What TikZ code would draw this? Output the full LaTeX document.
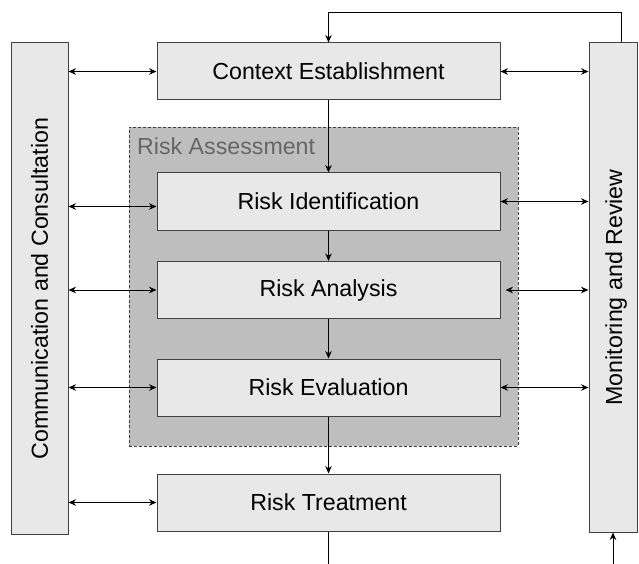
\documentclass[tikz,border=0pt]{standalone}
\usepackage{fontspec}
\setmainfont{Liberation Sans}
\usetikzlibrary{arrows.meta}
\definecolor{boxfill}{HTML}{E8E8E8}
\definecolor{regfill}{HTML}{BEBEBE}
\definecolor{edge}{HTML}{404040}
\definecolor{labgrey}{HTML}{666666}
\tikzset{
  procbox/.style={draw=edge, fill=boxfill, line width=1pt, minimum width=343pt, minimum height=57pt, inner sep=0pt, font=\fontsize{23.2}{27}\selectfont},
  sidebox/.style={draw=edge, fill=boxfill, line width=1pt, inner sep=0pt},
  region/.style={draw=edge, fill=regfill, line width=0.8pt, dash pattern=on 3pt off 2pt, inner sep=0pt, minimum width=389pt, minimum height=319pt},
  arr/.style={line width=0.9pt, draw=black, -{Stealth[length=7.5pt,width=6.5pt]}},
  darr/.style={line width=0.9pt, draw=black, {Stealth[length=7.5pt,width=6.5pt]}-{Stealth[length=7.5pt,width=6.5pt]}},
  plain/.style={line width=0.9pt, draw=black},
  sidetext/.style={rotate=90, font=\fontsize{23.2}{27}\selectfont},
}
\begin{document}
\begin{tikzpicture}[x=1pt,y=-1pt]
\useasboundingbox (0,0) rectangle (639,564);
% region
\node[region] (RA) at (323.5,286.5) {};
\node[anchor=base west, text=labgrey, inner sep=0pt, font=\fontsize{23.2}{27}\selectfont] (RAlab) at (137,155) {Risk Assessment};
% side boxes
\node[sidebox, minimum width=57pt, minimum height=491pt] (L) at (39.5,288.5) {};
\node[sidetext] (Ltext) at (L.center) {Communication and Consultation};
\node[sidebox, minimum width=48pt, minimum height=489pt] (R) at (613,287.5) {};
\node[sidetext] (Rtext) at ([xshift=3pt]R.center) {Monitoring and Review};
% process boxes
\node[procbox] (C) at (328.5,71.5) {Context Establishment};
\node[procbox] (ID) at (328.5,201.5) {Risk Identification};
\node[procbox] (AN) at (328.5,290) {Risk Analysis};
\node[procbox] (EV) at (328.5,387.5) {Risk Evaluation};
\node[procbox] (T) at (328.5,502.5) {Risk Treatment};
% helper coordinates
\coordinate (top) at (0,12);
\coordinate (bot) at (0,564);
% vertical flow
\draw[arr] (C.south) -- (ID.north);
\draw[arr] (ID.south) -- (AN.north);
\draw[arr] (AN.south) -- (EV.north);
\draw[arr] (EV.south) -- (T.north);
\draw[plain] (T.south) -- (T.south |- bot);
% feedback
\draw[arr] ([xshift=8pt]R.north) -- ([xshift=8pt]R.north |- top) -- (C.north |- top) -- (C.north);
\draw[arr] (R.south |- bot) -- (R.south);
% left links
\draw[darr] (L.east |- C.west) -- (C.west);
\draw[darr] ([yshift=-5pt]ID.west -| L.east) -- ([yshift=-5pt]ID.west);
\draw[darr] (L.east |- AN.west) -- (AN.west);
\draw[darr] (L.east |- EV.west) -- (EV.west);
\draw[darr] (L.east |- T.west) -- (T.west);
% right links
\draw[darr] (C.east) -- (C.east -| R.west);
\draw[darr] (ID.east) -- (ID.east -| R.west);
\draw[darr] ([xshift=5pt]AN.east) -- (AN.east -| R.west);
\draw[darr] (EV.east) -- (EV.east -| R.west);
\end{tikzpicture}
\end{document}
